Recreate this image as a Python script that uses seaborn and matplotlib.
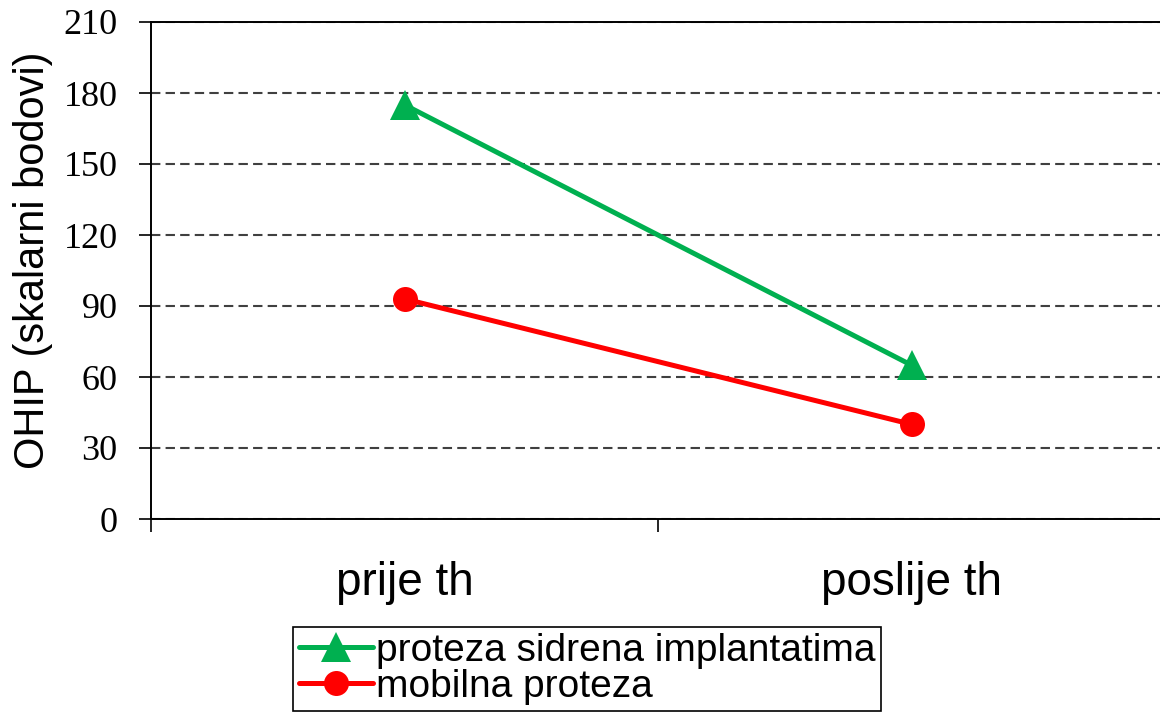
import pandas as pd
import seaborn as sns
import matplotlib.pyplot as plt

# data
periods = ["prije th", "poslije th"]
series_names = ["proteza sidrena implantatima", "mobilna proteza"]
implant_vals = [175, 65]
mobile_vals = [93, 40]
y_ticks = [0, 30, 60, 90, 120, 150, 180, 210]

colors = {series_names[0]: "#00B050", series_names[1]: "#FF0000"}
markers = {series_names[0]: "^", series_names[1]: "o"}

df = pd.DataFrame({
    "period": periods * 2,
    "series": [series_names[0]] * 2 + [series_names[1]] * 2,
    "ohip": implant_vals + mobile_vals,
})

sns.set_style("white")
plt.rcParams["font.family"] = ["Liberation Sans", "DejaVu Sans"]
plt.rcParams["text.color"] = "black"
plt.rcParams["axes.labelcolor"] = "black"
plt.rcParams["xtick.color"] = "black"
plt.rcParams["ytick.color"] = "black"

fig = plt.figure(figsize=(11.6, 7.21), dpi=100)
# axes runs slightly past the right edge like the source screenshot
ax = fig.add_axes([151 / 1160, 202 / 721, 1014 / 1160, 497 / 721])

sns.lineplot(
    data=df, x="period", y="ohip", hue="series", style="series",
    palette=colors, markers=markers, dashes=False, linewidth=3.6,
    markeredgewidth=0, legend=False, ax=ax, sort=False,
)

# per-series marker sizes
for line, name in zip(ax.lines, series_names):
    line.set_markersize(22 if markers[name] == "^" else 18)
    line.set_label(name)

ax.set_xlim(-0.5, 1.5)
ax.set_ylim(0, 210)
ax.set_yticks(y_ticks)
ax.set_yticklabels([str(v) for v in y_ticks], family="Liberation Serif", fontsize=26)

# category boundary ticks, labels in the middle
ax.set_xticks([-0.5, 0.5, 1.5])
ax.set_xticklabels([])
ax.set_xticks([0, 1], minor=True)
ax.set_xticklabels(periods, minor=True, fontsize=33)
ax.tick_params(axis="x", which="minor", length=0, pad=30)
ax.tick_params(axis="x", which="major", direction="out", length=9, width=1.2, color="black", bottom=True)
ax.tick_params(axis="y", direction="out", length=9, width=1.2, color="black", pad=15, left=True)

ax.yaxis.grid(True, linestyle=(0, (4.5, 2.5)), color="#404040", linewidth=1.5)
ax.xaxis.grid(False)

for side in ["left", "bottom", "top"]:
    ax.spines[side].set_color("black")
    ax.spines[side].set_linewidth(1.4)
ax.spines["right"].set_visible(False)

ax.set_xlabel("")
ax.set_ylabel("OHIP (skalarni bodovi)", fontsize=30)
ax.yaxis.set_label_coords(-0.097, 0.52)

handles = [ax.lines[0], ax.lines[1]]
leg = fig.legend(
    handles, series_names, loc="upper left",
    bbox_to_anchor=(293 / 1160, 1 - 627 / 721), fontsize=28,
    frameon=True, fancybox=False, edgecolor="black", framealpha=1,
    handlelength=1.9, handletextpad=0.08, labelspacing=0.0,
    borderpad=0.15, borderaxespad=0,
)
leg.get_frame().set_linewidth(1.2)

fig.savefig("out.png", dpi=100, facecolor="white")
